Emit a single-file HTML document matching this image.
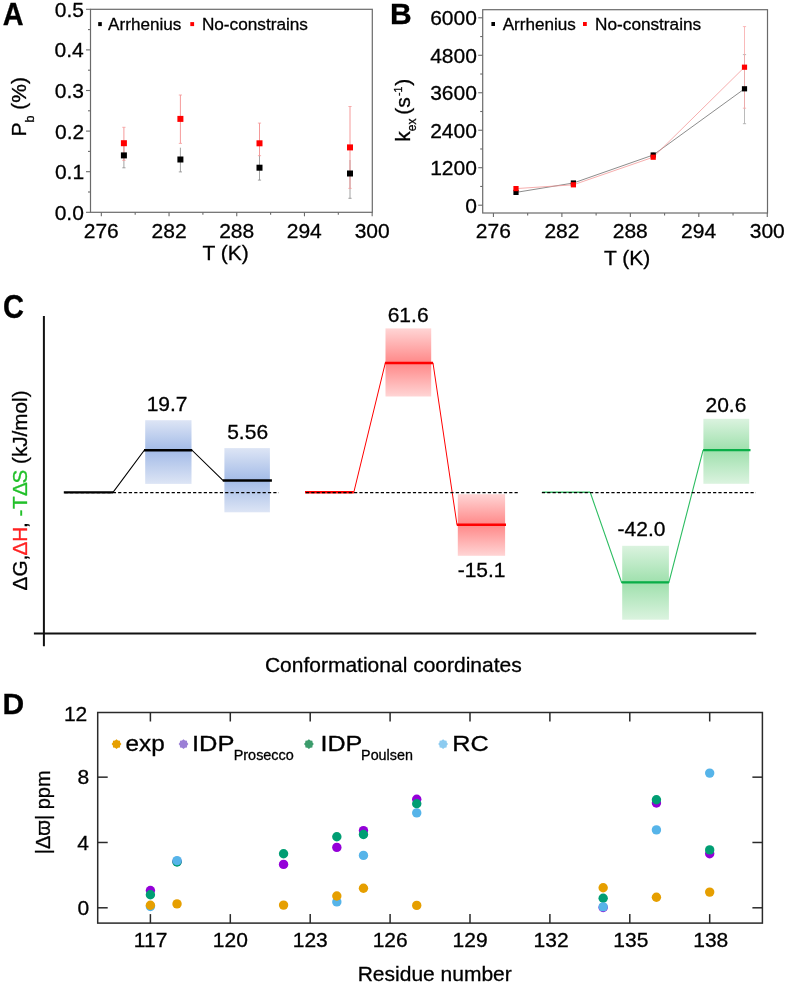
<!DOCTYPE html>
<html><head><meta charset="utf-8"><style>
html,body{margin:0;padding:0;background:#fff;}
:root{--sw:0.3px;}
svg{display:block;will-change:transform;}
text{font-family:"Liberation Sans", sans-serif;stroke-width:var(--sw);}
</style></head><body>
<svg width="786" height="984" viewBox="0 0 786 984" font-family='"Liberation Sans", sans-serif'>
<rect width="786" height="984" fill="#fff"/>
<g transform="translate(3.6,24.7) scale(0.93,1)"><text x="-0.80" y="0" font-size="31" font-weight="bold" fill="#000" stroke="#000">A</text></g>
<rect x="90.5" y="9.3" width="281.8" height="203.0" fill="none" stroke="#6a6a6a" stroke-width="1.2"/>
<line x1="101.33" y1="212.30" x2="101.33" y2="216.30" stroke="#6a6a6a" stroke-width="1.1" />
<text x="83.73" y="238.00" font-size="21" fill="#000" stroke="#000" >276</text>
<line x1="135.19" y1="212.30" x2="135.19" y2="214.80" stroke="#6a6a6a" stroke-width="1.1" />
<line x1="169.04" y1="212.30" x2="169.04" y2="216.30" stroke="#6a6a6a" stroke-width="1.1" />
<text x="151.54" y="238.00" font-size="21" fill="#000" stroke="#000" >282</text>
<line x1="202.90" y1="212.30" x2="202.90" y2="214.80" stroke="#6a6a6a" stroke-width="1.1" />
<line x1="236.75" y1="212.30" x2="236.75" y2="216.30" stroke="#6a6a6a" stroke-width="1.1" />
<text x="219.15" y="238.00" font-size="21" fill="#000" stroke="#000" >288</text>
<line x1="270.61" y1="212.30" x2="270.61" y2="214.80" stroke="#6a6a6a" stroke-width="1.1" />
<line x1="304.46" y1="212.30" x2="304.46" y2="216.30" stroke="#6a6a6a" stroke-width="1.1" />
<text x="286.71" y="238.00" font-size="21" fill="#000" stroke="#000" >294</text>
<line x1="338.32" y1="212.30" x2="338.32" y2="214.80" stroke="#6a6a6a" stroke-width="1.1" />
<line x1="372.17" y1="212.30" x2="372.17" y2="216.30" stroke="#6a6a6a" stroke-width="1.1" />
<text x="354.67" y="238.00" font-size="21" fill="#000" stroke="#000" >300</text>
<line x1="86.00" y1="212.30" x2="90.50" y2="212.30" stroke="#6a6a6a" stroke-width="1.1" />
<text x="54.70" y="219.80" font-size="21" fill="#000" stroke="#000" >0.0</text>
<line x1="88.00" y1="192.00" x2="90.50" y2="192.00" stroke="#6a6a6a" stroke-width="1.1" />
<line x1="86.00" y1="171.70" x2="90.50" y2="171.70" stroke="#6a6a6a" stroke-width="1.1" />
<text x="54.90" y="179.20" font-size="21" fill="#000" stroke="#000" >0.1</text>
<line x1="88.00" y1="151.40" x2="90.50" y2="151.40" stroke="#6a6a6a" stroke-width="1.1" />
<line x1="86.00" y1="131.10" x2="90.50" y2="131.10" stroke="#6a6a6a" stroke-width="1.1" />
<text x="55.00" y="138.60" font-size="21" fill="#000" stroke="#000" >0.2</text>
<line x1="88.00" y1="110.80" x2="90.50" y2="110.80" stroke="#6a6a6a" stroke-width="1.1" />
<line x1="86.00" y1="90.50" x2="90.50" y2="90.50" stroke="#6a6a6a" stroke-width="1.1" />
<text x="54.80" y="98.00" font-size="21" fill="#000" stroke="#000" >0.3</text>
<line x1="88.00" y1="70.20" x2="90.50" y2="70.20" stroke="#6a6a6a" stroke-width="1.1" />
<line x1="86.00" y1="49.90" x2="90.50" y2="49.90" stroke="#6a6a6a" stroke-width="1.1" />
<text x="54.50" y="57.40" font-size="21" fill="#000" stroke="#000" >0.4</text>
<line x1="88.00" y1="29.60" x2="90.50" y2="29.60" stroke="#6a6a6a" stroke-width="1.1" />
<line x1="86.00" y1="9.30" x2="90.50" y2="9.30" stroke="#6a6a6a" stroke-width="1.1" />
<text x="54.80" y="16.80" font-size="21" fill="#000" stroke="#000" >0.5</text>
<text x="202.40" y="259.60" font-size="21" fill="#000" stroke="#000" >T (K)</text>
<g transform="translate(26.4,136.50) rotate(-90)"><text x="0" y="0" font-size="21" fill="#000" stroke="#000">P<tspan font-size="12.5" dy="7.6">b</tspan><tspan dy="-7.6"> (%)</tspan></text></g>
<rect x="98.20" y="22.10" width="3.60" height="4.00" fill="#000" />
<text x="108.10" y="30.30" font-size="17.1" fill="#000" stroke="#000" >Arrhenius</text>
<rect x="190.30" y="22.10" width="3.80" height="4.00" fill="#f00" />
<text x="201.90" y="30.30" font-size="17.2" fill="#000" stroke="#000" >No-constrains</text>
<line x1="123.90" y1="143.00" x2="123.90" y2="167.80" stroke="#8c8c8c" stroke-width="0.8" />
<line x1="122.30" y1="167.80" x2="125.50" y2="167.80" stroke="#8c8c8c" stroke-width="0.8" />
<line x1="123.90" y1="127.30" x2="123.90" y2="160.40" stroke="#f59a9a" stroke-width="1.0" />
<line x1="122.30" y1="127.30" x2="125.50" y2="127.30" stroke="#f59a9a" stroke-width="0.8" />
<line x1="122.30" y1="160.40" x2="125.50" y2="160.40" stroke="#f59a9a" stroke-width="0.8" />
<line x1="180.40" y1="147.70" x2="180.40" y2="171.90" stroke="#8c8c8c" stroke-width="0.8" />
<line x1="178.80" y1="171.90" x2="182.00" y2="171.90" stroke="#8c8c8c" stroke-width="0.8" />
<line x1="180.40" y1="95.00" x2="180.40" y2="143.40" stroke="#f59a9a" stroke-width="1.0" />
<line x1="178.80" y1="95.00" x2="182.00" y2="95.00" stroke="#f59a9a" stroke-width="0.8" />
<line x1="178.80" y1="143.40" x2="182.00" y2="143.40" stroke="#f59a9a" stroke-width="0.8" />
<line x1="259.50" y1="155.00" x2="259.50" y2="180.10" stroke="#8c8c8c" stroke-width="0.8" />
<line x1="257.90" y1="180.10" x2="261.10" y2="180.10" stroke="#8c8c8c" stroke-width="0.8" />
<line x1="259.50" y1="123.10" x2="259.50" y2="155.70" stroke="#f59a9a" stroke-width="1.0" />
<line x1="257.90" y1="123.10" x2="261.10" y2="123.10" stroke="#f59a9a" stroke-width="0.8" />
<line x1="257.90" y1="155.70" x2="261.10" y2="155.70" stroke="#f59a9a" stroke-width="0.8" />
<line x1="350.00" y1="160.00" x2="350.00" y2="198.30" stroke="#8c8c8c" stroke-width="0.8" />
<line x1="348.40" y1="198.30" x2="351.60" y2="198.30" stroke="#8c8c8c" stroke-width="0.8" />
<line x1="350.00" y1="106.50" x2="350.00" y2="188.40" stroke="#f59a9a" stroke-width="1.0" />
<line x1="348.40" y1="106.50" x2="351.60" y2="106.50" stroke="#f59a9a" stroke-width="0.8" />
<line x1="348.40" y1="188.40" x2="351.60" y2="188.40" stroke="#f59a9a" stroke-width="0.8" />
<rect x="120.90" y="152.40" width="6.00" height="6.00" fill="#000" />
<rect x="177.40" y="156.50" width="6.00" height="6.00" fill="#000" />
<rect x="256.50" y="164.70" width="6.00" height="6.00" fill="#000" />
<rect x="347.00" y="170.50" width="6.00" height="6.00" fill="#000" />
<rect x="120.90" y="140.20" width="6.00" height="6.00" fill="#f00" />
<rect x="177.40" y="115.90" width="6.00" height="6.00" fill="#f00" />
<rect x="256.50" y="140.30" width="6.00" height="6.00" fill="#f00" />
<rect x="347.00" y="144.40" width="6.00" height="6.00" fill="#f00" />
<text x="389.90" y="24.40" font-size="30" font-weight="bold" fill="#000" stroke="#000" >B</text>
<rect x="482.7" y="9.7" width="284.8" height="203.3" fill="none" stroke="#6a6a6a" stroke-width="1.2"/>
<line x1="493.43" y1="213.00" x2="493.43" y2="217.00" stroke="#6a6a6a" stroke-width="1.1" />
<text x="475.83" y="238.00" font-size="21" fill="#000" stroke="#000" >276</text>
<line x1="527.66" y1="213.00" x2="527.66" y2="215.50" stroke="#6a6a6a" stroke-width="1.1" />
<line x1="561.89" y1="213.00" x2="561.89" y2="217.00" stroke="#6a6a6a" stroke-width="1.1" />
<text x="544.39" y="238.00" font-size="21" fill="#000" stroke="#000" >282</text>
<line x1="596.12" y1="213.00" x2="596.12" y2="215.50" stroke="#6a6a6a" stroke-width="1.1" />
<line x1="630.35" y1="213.00" x2="630.35" y2="217.00" stroke="#6a6a6a" stroke-width="1.1" />
<text x="612.75" y="238.00" font-size="21" fill="#000" stroke="#000" >288</text>
<line x1="664.58" y1="213.00" x2="664.58" y2="215.50" stroke="#6a6a6a" stroke-width="1.1" />
<line x1="698.81" y1="213.00" x2="698.81" y2="217.00" stroke="#6a6a6a" stroke-width="1.1" />
<text x="681.06" y="238.00" font-size="21" fill="#000" stroke="#000" >294</text>
<line x1="733.04" y1="213.00" x2="733.04" y2="215.50" stroke="#6a6a6a" stroke-width="1.1" />
<line x1="767.27" y1="213.00" x2="767.27" y2="217.00" stroke="#6a6a6a" stroke-width="1.1" />
<text x="749.77" y="238.00" font-size="21" fill="#000" stroke="#000" >300</text>
<line x1="478.20" y1="205.20" x2="482.70" y2="205.20" stroke="#6a6a6a" stroke-width="1.1" />
<text x="465.20" y="212.70" font-size="21" fill="#000" stroke="#000" >0</text>
<line x1="480.20" y1="186.46" x2="482.70" y2="186.46" stroke="#6a6a6a" stroke-width="1.1" />
<line x1="478.20" y1="167.72" x2="482.70" y2="167.72" stroke="#6a6a6a" stroke-width="1.1" />
<text x="430.20" y="175.22" font-size="21" fill="#000" stroke="#000" >1200</text>
<line x1="480.20" y1="148.98" x2="482.70" y2="148.98" stroke="#6a6a6a" stroke-width="1.1" />
<line x1="478.20" y1="130.24" x2="482.70" y2="130.24" stroke="#6a6a6a" stroke-width="1.1" />
<text x="430.20" y="137.74" font-size="21" fill="#000" stroke="#000" >2400</text>
<line x1="480.20" y1="111.50" x2="482.70" y2="111.50" stroke="#6a6a6a" stroke-width="1.1" />
<line x1="478.20" y1="92.76" x2="482.70" y2="92.76" stroke="#6a6a6a" stroke-width="1.1" />
<text x="430.20" y="100.26" font-size="21" fill="#000" stroke="#000" >3600</text>
<line x1="480.20" y1="74.02" x2="482.70" y2="74.02" stroke="#6a6a6a" stroke-width="1.1" />
<line x1="478.20" y1="55.28" x2="482.70" y2="55.28" stroke="#6a6a6a" stroke-width="1.1" />
<text x="430.20" y="62.78" font-size="21" fill="#000" stroke="#000" >4800</text>
<line x1="480.20" y1="36.54" x2="482.70" y2="36.54" stroke="#6a6a6a" stroke-width="1.1" />
<line x1="478.20" y1="17.80" x2="482.70" y2="17.80" stroke="#6a6a6a" stroke-width="1.1" />
<text x="430.20" y="25.30" font-size="21" fill="#000" stroke="#000" >6000</text>
<text x="603.90" y="264.70" font-size="21" fill="#000" stroke="#000" >T (K)</text>
<g transform="translate(409.9,141.70) rotate(-90)"><text x="0" y="0" font-size="21" fill="#000" stroke="#000">k<tspan font-size="12" dy="6.4">ex</tspan><tspan x="27" dy="-6.4">(s</tspan><tspan x="45.6" font-size="10.5" dy="-8">-1</tspan><tspan x="56" dy="8">)</tspan></text></g>
<rect x="491.40" y="22.00" width="3.60" height="4.00" fill="#000" />
<text x="502.70" y="29.90" font-size="17.1" fill="#000" stroke="#000" >Arrhenius</text>
<rect x="583.00" y="22.00" width="3.80" height="4.00" fill="#f00" />
<text x="595.10" y="29.90" font-size="17.2" fill="#000" stroke="#000" >No-constrains</text>
<polyline points="516.0,192.4 573.4,183.0 653.2,155.0 744.5,88.8" fill="none" stroke="#5a5a5a" stroke-width="0.7"/>
<polyline points="516.0,188.6 573.4,184.8 653.2,157.2 744.5,67.2" fill="none" stroke="#f39393" stroke-width="0.75"/>
<line x1="744.50" y1="54.60" x2="744.50" y2="123.70" stroke="#a8a8a8" stroke-width="0.8" />
<line x1="742.90" y1="54.60" x2="746.10" y2="54.60" stroke="#a8a8a8" stroke-width="0.8" />
<line x1="742.90" y1="123.70" x2="746.10" y2="123.70" stroke="#a8a8a8" stroke-width="0.8" />
<line x1="744.50" y1="26.60" x2="744.50" y2="108.20" stroke="#f7a8a8" stroke-width="0.8" />
<line x1="742.90" y1="26.60" x2="746.10" y2="26.60" stroke="#f7a8a8" stroke-width="0.8" />
<line x1="742.90" y1="108.20" x2="746.10" y2="108.20" stroke="#f7a8a8" stroke-width="0.8" />
<line x1="653.20" y1="152.10" x2="653.20" y2="158.00" stroke="#a8a8a8" stroke-width="0.8" />
<rect x="513.40" y="189.80" width="5.20" height="5.20" fill="#000" />
<rect x="570.80" y="180.40" width="5.20" height="5.20" fill="#000" />
<rect x="650.60" y="152.40" width="5.20" height="5.20" fill="#000" />
<rect x="741.90" y="86.20" width="5.20" height="5.20" fill="#000" />
<rect x="513.40" y="186.00" width="5.20" height="5.20" fill="#f00" />
<rect x="570.80" y="182.20" width="5.20" height="5.20" fill="#f00" />
<rect x="650.60" y="154.60" width="5.20" height="5.20" fill="#f00" />
<rect x="741.90" y="64.60" width="5.20" height="5.20" fill="#f00" />
<g transform="translate(4.2,318.1) scale(0.88,1)"><text x="-1.40" y="0" font-size="33" font-weight="bold" fill="#000" stroke="#000">C</text></g>
<line x1="43.90" y1="315.90" x2="43.90" y2="646.20" stroke="#111" stroke-width="2" />
<line x1="33.90" y1="633.50" x2="756.20" y2="633.50" stroke="#111" stroke-width="1.8" />
<defs><linearGradient id="g1" x1="0" y1="0" x2="0" y2="1"><stop offset="0" stop-color="#dde5f5"/><stop offset="0.471" stop-color="#a3bbe7"/><stop offset="1" stop-color="#dde5f5"/></linearGradient></defs>
<rect x="145.20" y="420.20" width="46.30" height="63.70" fill="url(#g1)" />
<defs><linearGradient id="g2" x1="0" y1="0" x2="0" y2="1"><stop offset="0" stop-color="#dde5f5"/><stop offset="0.506" stop-color="#a3bbe7"/><stop offset="1" stop-color="#dde5f5"/></linearGradient></defs>
<rect x="224.40" y="448.10" width="45.50" height="64.20" fill="url(#g2)" />
<defs><linearGradient id="g3" x1="0" y1="0" x2="0" y2="1"><stop offset="0" stop-color="#ffd5d5"/><stop offset="0.508" stop-color="#ff8888"/><stop offset="1" stop-color="#ffd5d5"/></linearGradient></defs>
<rect x="385.50" y="328.40" width="45.70" height="68.10" fill="url(#g3)" />
<defs><linearGradient id="g4" x1="0" y1="0" x2="0" y2="1"><stop offset="0" stop-color="#ffd5d5"/><stop offset="0.497" stop-color="#ff8888"/><stop offset="1" stop-color="#ffd5d5"/></linearGradient></defs>
<rect x="457.80" y="494.20" width="47.30" height="61.60" fill="url(#g4)" />
<defs><linearGradient id="g5" x1="0" y1="0" x2="0" y2="1"><stop offset="0" stop-color="#dbf3df"/><stop offset="0.495" stop-color="#9fe0ad"/><stop offset="1" stop-color="#dbf3df"/></linearGradient></defs>
<rect x="622.20" y="545.80" width="46.70" height="73.90" fill="url(#g5)" />
<defs><linearGradient id="g6" x1="0" y1="0" x2="0" y2="1"><stop offset="0" stop-color="#dbf3df"/><stop offset="0.483" stop-color="#9fe0ad"/><stop offset="1" stop-color="#dbf3df"/></linearGradient></defs>
<rect x="703.40" y="418.80" width="45.80" height="65.00" fill="url(#g6)" />
<line x1="63.80" y1="492.30" x2="113.00" y2="492.30" stroke="#000" stroke-width="2.2" />
<polyline points="113,492.3 144.3,450.2 192,450.2 223.2,480.6" fill="none" stroke="#000" stroke-width="1.1"/>
<line x1="144.00" y1="450.20" x2="192.20" y2="450.20" stroke="#000" stroke-width="2.5" />
<line x1="222.80" y1="480.60" x2="271.90" y2="480.60" stroke="#000" stroke-width="2.5" />
<line x1="305.00" y1="492.30" x2="353.80" y2="492.30" stroke="#f00" stroke-width="2.4" />
<polyline points="353.8,492.3 385.3,363 433,363 457,524.8" fill="none" stroke="#f00" stroke-width="1.0"/>
<line x1="384.90" y1="363.00" x2="433.10" y2="363.00" stroke="#f00" stroke-width="2.6" />
<line x1="456.80" y1="524.80" x2="506.00" y2="524.80" stroke="#f00" stroke-width="2.6" />
<line x1="542.20" y1="492.30" x2="590.20" y2="492.30" stroke="#3cc46c" stroke-width="1.6" />
<polyline points="590.2,492.3 621.6,582.4 668.9,582.4 703.1,450.2" fill="none" stroke="#2dbd62" stroke-width="1.1"/>
<line x1="621.60" y1="582.40" x2="668.90" y2="582.40" stroke="#0aae48" stroke-width="2.3" />
<line x1="703.10" y1="450.20" x2="750.50" y2="450.20" stroke="#0aae48" stroke-width="2.3" />
<line x1="64.65" y1="492.60" x2="278.90" y2="492.60" stroke="#000" stroke-width="1.45" stroke-dasharray="3.2 2.15"/>
<line x1="305.90" y1="492.60" x2="519.00" y2="492.60" stroke="#000" stroke-width="1.45" stroke-dasharray="3.2 2.15"/>
<line x1="541.85" y1="492.60" x2="756.00" y2="492.60" stroke="#000" stroke-width="1.45" stroke-dasharray="3.2 2.15"/>
<text x="146.65" y="410.90" font-size="21" fill="#000" stroke="#000" >19.7</text>
<text x="227.20" y="439.00" font-size="21" fill="#000" stroke="#000" >5.56</text>
<text x="387.70" y="321.80" font-size="21" fill="#000" stroke="#000" >61.6</text>
<text x="457.65" y="576.70" font-size="21" fill="#000" stroke="#000" >-15.1</text>
<text x="617.55" y="536.30" font-size="21" fill="#000" stroke="#000" >-42.0</text>
<text x="705.50" y="412.10" font-size="21" fill="#000" stroke="#000" >20.6</text>
<text x="264.90" y="672.00" font-size="21" fill="#000" stroke="#000" >Conformational coordinates</text>
<g transform="translate(27.3,590.4) rotate(-90)"><text x="0" y="0" font-size="20.7" fill="#000" stroke="#000">ΔG,<tspan x="34.8" fill="#f22" stroke="#f22">ΔH</tspan><tspan x="62.5">,</tspan><tspan x="73.9 81.3 94.4 106.8" fill="#22c02a" stroke="#22c02a">-TΔS</tspan><tspan x="126.4">(kJ/mol)</tspan></text></g>
<text x="2.60" y="714.30" font-size="30" font-weight="bold" fill="#000" stroke="#000" >D</text>
<rect x="97.7" y="712.5" width="664.6999999999999" height="210.60000000000002" fill="none" stroke="#2a2a2a" stroke-width="1.5"/>
<line x1="150.40" y1="923.10" x2="150.40" y2="914.10" stroke="#2a2a2a" stroke-width="1.5" />
<line x1="150.40" y1="712.50" x2="150.40" y2="721.50" stroke="#2a2a2a" stroke-width="1.5" />
<text x="133.85" y="946.70" font-size="21" fill="#000" stroke="#000" >117</text>
<line x1="230.30" y1="923.10" x2="230.30" y2="914.10" stroke="#2a2a2a" stroke-width="1.5" />
<line x1="230.30" y1="712.50" x2="230.30" y2="721.50" stroke="#2a2a2a" stroke-width="1.5" />
<text x="212.80" y="946.70" font-size="21" fill="#000" stroke="#000" >120</text>
<line x1="310.20" y1="923.10" x2="310.20" y2="914.10" stroke="#2a2a2a" stroke-width="1.5" />
<line x1="310.20" y1="712.50" x2="310.20" y2="721.50" stroke="#2a2a2a" stroke-width="1.5" />
<text x="292.75" y="946.70" font-size="21" fill="#000" stroke="#000" >123</text>
<line x1="390.10" y1="923.10" x2="390.10" y2="914.10" stroke="#2a2a2a" stroke-width="1.5" />
<line x1="390.10" y1="712.50" x2="390.10" y2="721.50" stroke="#2a2a2a" stroke-width="1.5" />
<text x="372.65" y="946.70" font-size="21" fill="#000" stroke="#000" >126</text>
<line x1="470.00" y1="923.10" x2="470.00" y2="914.10" stroke="#2a2a2a" stroke-width="1.5" />
<line x1="470.00" y1="712.50" x2="470.00" y2="721.50" stroke="#2a2a2a" stroke-width="1.5" />
<text x="452.60" y="946.70" font-size="21" fill="#000" stroke="#000" >129</text>
<line x1="549.89" y1="923.10" x2="549.89" y2="914.10" stroke="#2a2a2a" stroke-width="1.5" />
<line x1="549.89" y1="712.50" x2="549.89" y2="721.50" stroke="#2a2a2a" stroke-width="1.5" />
<text x="533.54" y="946.70" font-size="21" fill="#000" stroke="#000" >132</text>
<line x1="629.79" y1="923.10" x2="629.79" y2="914.10" stroke="#2a2a2a" stroke-width="1.5" />
<line x1="629.79" y1="712.50" x2="629.79" y2="721.50" stroke="#2a2a2a" stroke-width="1.5" />
<text x="613.34" y="946.70" font-size="21" fill="#000" stroke="#000" >135</text>
<line x1="709.69" y1="923.10" x2="709.69" y2="914.10" stroke="#2a2a2a" stroke-width="1.5" />
<line x1="709.69" y1="712.50" x2="709.69" y2="721.50" stroke="#2a2a2a" stroke-width="1.5" />
<text x="693.24" y="946.70" font-size="21" fill="#000" stroke="#000" >138</text>
<line x1="97.70" y1="907.80" x2="107.70" y2="907.80" stroke="#2a2a2a" stroke-width="1.5" />
<line x1="762.40" y1="907.80" x2="752.40" y2="907.80" stroke="#2a2a2a" stroke-width="1.5" />
<line x1="97.70" y1="842.48" x2="107.70" y2="842.48" stroke="#2a2a2a" stroke-width="1.5" />
<line x1="762.40" y1="842.48" x2="752.40" y2="842.48" stroke="#2a2a2a" stroke-width="1.5" />
<line x1="97.70" y1="777.16" x2="107.70" y2="777.16" stroke="#2a2a2a" stroke-width="1.5" />
<line x1="762.40" y1="777.16" x2="752.40" y2="777.16" stroke="#2a2a2a" stroke-width="1.5" />
<text x="77.50" y="915.10" font-size="21" fill="#000" stroke="#000" >0</text>
<text x="77.30" y="849.78" font-size="21" fill="#000" stroke="#000" >4</text>
<text x="77.60" y="784.46" font-size="21" fill="#000" stroke="#000" >8</text>
<text x="63.90" y="720.60" font-size="21" fill="#000" stroke="#000" >12</text>
<text x="357.70" y="981.00" font-size="21" fill="#000" stroke="#000" >Residue number</text>
<g transform="translate(50.1,854.20) rotate(-90)"><text x="0" y="0" font-size="20" fill="#000" stroke="#000">|Δϖ| ppm</text></g>
<polygon points="116.50,739.20 118.01,740.45 119.96,740.64 120.15,742.59 121.40,744.10 120.15,745.61 119.96,747.56 118.01,747.75 116.50,749.00 114.99,747.75 113.04,747.56 112.85,745.61 111.60,744.10 112.85,742.59 113.04,740.64 114.99,740.45" fill="#e69f00"/>
<polygon points="183.50,739.20 185.01,740.45 186.96,740.64 187.15,742.59 188.40,744.10 187.15,745.61 186.96,747.56 185.01,747.75 183.50,749.00 181.99,747.75 180.04,747.56 179.85,745.61 178.60,744.10 179.85,742.59 180.04,740.64 181.99,740.45" fill="#9b7fd6"/>
<polygon points="308.90,739.20 310.41,740.45 312.36,740.64 312.55,742.59 313.80,744.10 312.55,745.61 312.36,747.56 310.41,747.75 308.90,749.00 307.39,747.75 305.44,747.56 305.25,745.61 304.00,744.10 305.25,742.59 305.44,740.64 307.39,740.45" fill="#3c9c6c"/>
<polygon points="443.10,739.20 444.61,740.45 446.56,740.64 446.75,742.59 448.00,744.10 446.75,745.61 446.56,747.56 444.61,747.75 443.10,749.00 441.59,747.75 439.64,747.56 439.45,745.61 438.20,744.10 439.45,742.59 439.64,740.64 441.59,740.45" fill="#8ccbf0"/>
<text x="125.61" y="751.00" font-size="22.0" fill="#000" stroke="#000" textLength="39.18" lengthAdjust="spacingAndGlyphs" >exp</text>
<text x="192.00" y="751.20" font-size="22.2" fill="#000" stroke="#000" textLength="42.50" lengthAdjust="spacingAndGlyphs" >IDP</text>
<text x="233.69" y="760.10" font-size="14.3" fill="#000" stroke="#000" textLength="60.13" lengthAdjust="spacingAndGlyphs" >Prosecco</text>
<text x="320.43" y="751.20" font-size="22.2" fill="#000" stroke="#000" textLength="41.95" lengthAdjust="spacingAndGlyphs" >IDP</text>
<text x="361.10" y="759.80" font-size="14.3" fill="#000" stroke="#000" textLength="51.78" lengthAdjust="spacingAndGlyphs" >Poulsen</text>
<text x="452.25" y="751.20" font-size="22.2" fill="#000" stroke="#000" textLength="36.45" lengthAdjust="spacingAndGlyphs" >RC</text>
<circle cx="150.40" cy="890.5" r="4.7" fill="#9400d8"/>
<circle cx="177.03" cy="861.5" r="4.7" fill="#9400d8"/>
<circle cx="283.56" cy="864.4" r="4.7" fill="#9400d8"/>
<circle cx="336.83" cy="847.4" r="4.7" fill="#9400d8"/>
<circle cx="363.46" cy="830.6" r="4.7" fill="#9400d8"/>
<circle cx="416.73" cy="799.2" r="4.7" fill="#9400d8"/>
<circle cx="603.16" cy="907.5" r="4.7" fill="#9400d8"/>
<circle cx="656.43" cy="803.0" r="4.7" fill="#9400d8"/>
<circle cx="709.69" cy="853.8" r="4.7" fill="#9400d8"/>
<circle cx="150.40" cy="894.7" r="4.7" fill="#009e73"/>
<circle cx="177.03" cy="862.0" r="4.7" fill="#009e73"/>
<circle cx="283.56" cy="853.7" r="4.7" fill="#009e73"/>
<circle cx="336.83" cy="836.7" r="4.7" fill="#009e73"/>
<circle cx="363.46" cy="834.5" r="4.7" fill="#009e73"/>
<circle cx="416.73" cy="803.7" r="4.7" fill="#009e73"/>
<circle cx="603.16" cy="898.3" r="4.7" fill="#009e73"/>
<circle cx="656.43" cy="799.7" r="4.7" fill="#009e73"/>
<circle cx="709.69" cy="849.9" r="4.7" fill="#009e73"/>
<circle cx="150.40" cy="906.5" r="4.7" fill="#56b4e9"/>
<circle cx="177.03" cy="860.6" r="4.7" fill="#56b4e9"/>
<circle cx="336.83" cy="901.9" r="4.7" fill="#56b4e9"/>
<circle cx="363.46" cy="855.4" r="4.7" fill="#56b4e9"/>
<circle cx="416.73" cy="812.9" r="4.7" fill="#56b4e9"/>
<circle cx="603.16" cy="906.9" r="4.7" fill="#56b4e9"/>
<circle cx="656.43" cy="829.9" r="4.7" fill="#56b4e9"/>
<circle cx="709.69" cy="773.1" r="4.7" fill="#56b4e9"/>
<circle cx="150.40" cy="905.2" r="4.7" fill="#e69f00"/>
<circle cx="177.03" cy="903.9" r="4.7" fill="#e69f00"/>
<circle cx="283.56" cy="905.1" r="4.7" fill="#e69f00"/>
<circle cx="336.83" cy="896.0" r="4.7" fill="#e69f00"/>
<circle cx="363.46" cy="888.3" r="4.7" fill="#e69f00"/>
<circle cx="416.73" cy="905.4" r="4.7" fill="#e69f00"/>
<circle cx="603.16" cy="887.8" r="4.7" fill="#e69f00"/>
<circle cx="656.43" cy="897.2" r="4.7" fill="#e69f00"/>
<circle cx="709.69" cy="892.1" r="4.7" fill="#e69f00"/>
</svg>
</body></html>
